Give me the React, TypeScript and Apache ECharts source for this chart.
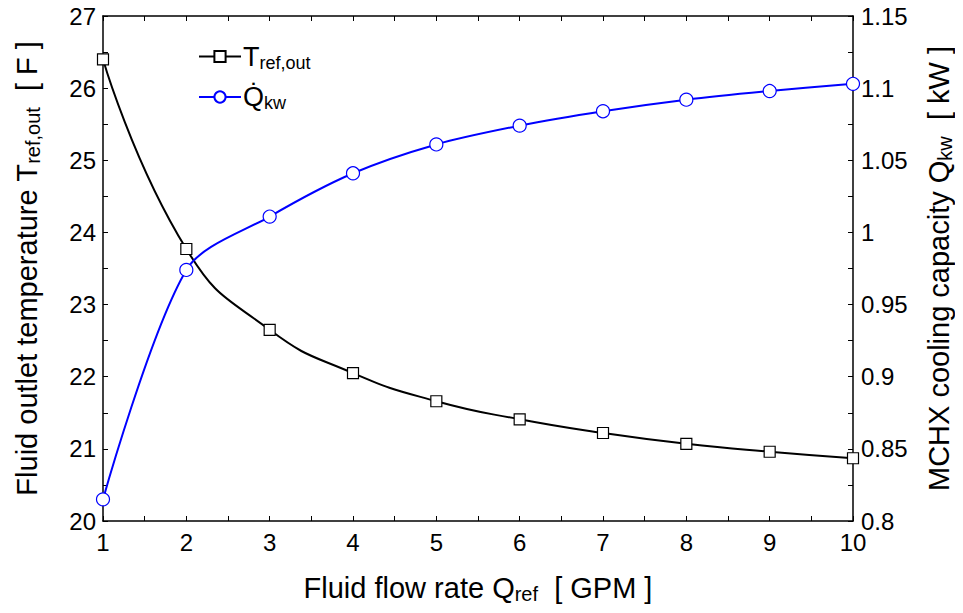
import React, { useEffect, useRef } from "react";
import * as echarts from "echarts";

const flowRates = [1, 2, 3, 4, 5, 6, 7, 8, 9, 10];
const tRefOut = [26.4, 23.77, 22.65, 22.05, 21.66, 21.41, 21.22, 21.07, 20.96, 20.87];
const qKw = [0.815, 0.974, 1.011, 1.041, 1.061, 1.074, 1.084, 1.092, 1.098, 1.103];

const FONT = "Liberation Sans";

const App: React.FC = () => {
  const ref = useRef<HTMLDivElement>(null);
  useEffect(() => {
    if (!ref.current) return;
    const chart = echarts.init(ref.current, null, { renderer: "svg" });
    const axisCommon = {
      axisLine: { show: true, lineStyle: { color: "#000", width: 1.5 } },
      axisTick: { show: true, inside: true, length: 5, lineStyle: { color: "#000", width: 1 } },
      minorTick: { show: true, splitNumber: 2, length: 5, lineStyle: { color: "#000", width: 1 } },
      splitLine: { show: false },
      minorSplitLine: { show: false },
    };
    const nameRich = {
      m: { fontFamily: FONT, fontSize: 29, color: "#000" },
      s: { fontFamily: FONT, fontSize: 20, color: "#000", padding: [12, 0, 0, 0] },
    };
    const tickLabel = { fontFamily: FONT, fontSize: 24, color: "#000", margin: 7 };
    const seriesData = (ys: number[]) => flowRates.map((x, i) => [x, ys[i]]);
    chart.setOption({
      animation: false,
      textStyle: { fontFamily: FONT },
      grid: { left: 103, right: 106, top: 16, bottom: 92 },
      legend: {
        orient: "vertical",
        left: 193,
        top: 38,
        itemGap: 12,
        itemWidth: 42,
        itemHeight: 14,
        data: ["T", "Q"],
        formatter: (name: string) =>
          name === "T" ? "{m|T}{s|ref,out}" : "{m|Q\u0307}{s|kw}",
        textStyle: {
          padding: [0, 0, 0, -3],
          rich: {
            m: { fontFamily: FONT, fontSize: 27, color: "#000" },
            s: { fontFamily: FONT, fontSize: 18, color: "#000", padding: [12, 0, 0, 0] },
          },
        },
      },
      xAxis: [
        {
          type: "value",
          min: 1,
          max: 10,
          interval: 1,
          ...axisCommon,
          axisLabel: { ...tickLabel, margin: 9 },
          name: "{m|Fluid flow rate Q}{s|ref}{m|  [ GPM ]}",
          nameLocation: "middle",
          nameGap: 51,
          nameTextStyle: { rich: nameRich },
        },
        {
          type: "value",
          position: "top",
          min: 1,
          max: 10,
          interval: 1,
          ...axisCommon,
          axisLabel: { show: false },
        },
      ],
      yAxis: [
        {
          type: "value",
          min: 20,
          max: 27,
          interval: 1,
          ...axisCommon,
          axisLabel: tickLabel,
          name: "{m|Fluid outlet temperature T}{s|ref,out}{m|  [ F ]}",
          nameLocation: "middle",
          nameRotate: 90,
          nameGap: 60,
          nameTextStyle: { rich: nameRich },
        },
        {
          type: "value",
          position: "right",
          min: 0.8,
          max: 1.15,
          interval: 0.05,
          ...axisCommon,
          axisLabel: { ...tickLabel, margin: 8 },
          name: "{m|MCHX cooling capacity Q}{s|kw}{m|  [ kW ]}",
          nameLocation: "middle",
          nameRotate: 90,
          nameGap: 70,
          nameTextStyle: { rich: nameRich },
        },
      ],
      series: [
        {
          name: "T",
          type: "line",
          yAxisIndex: 0,
          data: seriesData(tRefOut),
          smooth: 0.5,
          symbol: "rect",
          symbolSize: 11,
          showAllSymbol: true,
          lineStyle: { color: "#000", width: 2 },
          itemStyle: { color: "#fff", borderColor: "#000", borderWidth: 1.2 },
        },
        {
          name: "Q",
          type: "line",
          yAxisIndex: 1,
          data: seriesData(qKw),
          smooth: 0.3,
          symbol: "circle",
          symbolSize: 13,
          showAllSymbol: true,
          lineStyle: { color: "#0000ff", width: 2 },
          itemStyle: { color: "#fff", borderColor: "#0000ff", borderWidth: 1.2 },
        },
      ],
    });
    return () => chart.dispose();
  }, []);
  return <div ref={ref} style={{ width: 963, height: 613, margin: -8 }} />;
};

export default App;
